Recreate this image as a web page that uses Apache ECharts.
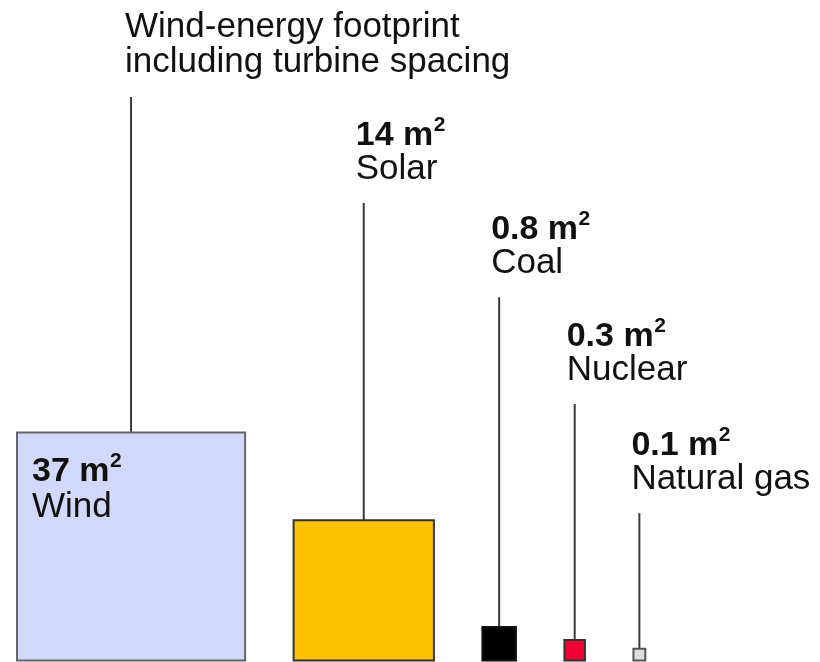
<!DOCTYPE html>
<html>
<head>
<meta charset="utf-8">
<script src="https://cdn.jsdelivr.net/npm/echarts@6/dist/echarts.min.js"></script>
<style>
  html, body { margin: 0; padding: 0; background: #ffffff; }
  #chart { width: 820px; height: 662px; }
</style>
</head>
<body>
<div id="chart"></div>
<script>
// Land footprint per unit of energy, by source (square metres).
// Each square's area is proportional to the footprint.
const categories = ['Wind', 'Solar', 'Coal', 'Nuclear', 'Natural gas'];
const footprint = [37, 14, 0.8, 0.3, 0.1];
const valueText = ['37', '14', '0.8', '0.3', '0.1'];
const windNote = ['Wind-energy footprint', 'including turbine spacing'];

// ---- styling and layout ----
const fills = ['#d3d8fa', '#fcc200', '#000000', '#f00034', '#dedede'];
const strokes = ['#666666', '#333333', '#111111', '#333333', '#555555'];
const leaderTop = [15.03, 12.2, 9.69, 6.84, 3.93]; // y-axis units (metres)
const GAP = 1.293;                                  // metres between squares
const FONT = '"Liberation Sans", Arial, Helvetica, sans-serif';
const NAME_SIZE = 35, VALUE_SIZE = 34, SUP_SIZE = 21;
const TEXT_COLOR = '#111111';
const LINE_COLOR = '#3a3a3a';

// side of each square and its left edge, laid out left to right
const sides = footprint.map(Math.sqrt);
const lefts = [];
let run = 0;
sides.forEach(s => { lefts.push(run); run += s + GAP; });

// text measuring helpers
const mctx = document.createElement('canvas').getContext('2d');
function setFont(size, weight) { mctx.font = weight + ' ' + size + 'px ' + FONT; }
function textWidth(str, size, weight) { setFont(size, weight); return mctx.measureText(str).width; }
function baselineShift(size, weight) {
  setFont(size, weight);
  mctx.textBaseline = 'alphabetic';
  const a = mctx.measureText('H').actualBoundingBoxAscent;
  mctx.textBaseline = 'middle';
  const b = mctx.measureText('H').actualBoundingBoxAscent;
  mctx.textBaseline = 'alphabetic';
  return a - b;
}
function textEl(str, x, baseY, size, weight) {
  return {
    type: 'text', silent: true,
    style: {
      text: str, x: x, y: baseY - baselineShift(size, weight),
      fill: TEXT_COLOR, fontSize: size, fontWeight: weight, fontFamily: FONT,
      align: 'left', verticalAlign: 'middle'
    }
  };
}
// "37 m²" with a real superscript two
function valueEls(str, x, baseY) {
  const main = str + ' m';
  const w = textWidth(main, VALUE_SIZE, 'bold');
  return [
    textEl(main, x, baseY, VALUE_SIZE, 'bold'),
    textEl('2', x + w + 0.5, baseY - 14, SUP_SIZE, 'bold')
  ];
}

function renderItem(params, api) {
  const i = api.value(0);
  const side = sides[i];
  const tl = api.coord([lefts[i], side]);
  const sz = api.size([side, side]);
  const cx = tl[0] + sz[0] / 2;
  const topY = api.coord([0, leaderTop[i]])[1];
  const children = [];

  children.push({
    type: 'line', silent: true,
    shape: { x1: cx, y1: topY, x2: cx, y2: tl[1] },
    style: { stroke: LINE_COLOR, lineWidth: 2 }
  });
  children.push({
    type: 'rect', silent: true,
    shape: { x: tl[0], y: tl[1], width: sz[0], height: sz[1] },
    style: { fill: fills[i], stroke: strokes[i], lineWidth: 2 }
  });

  if (i === 0) {
    // label sits inside the large square, note sits above the leader
    const lx = tl[0] + 15;
    const vb = tl[1] + 49;
    children.push(...valueEls(valueText[i], lx, vb));
    children.push(textEl(categories[i], lx, vb + 36, NAME_SIZE, 'normal'));
    children.push(textEl(windNote[0], cx - 6, topY - 60, NAME_SIZE, 'normal'));
    children.push(textEl(windNote[1], cx - 6, topY - 25, NAME_SIZE, 'normal'));
  } else {
    const lx = cx - 8;
    const nb = topY - 24;
    children.push(...valueEls(valueText[i], lx, nb - 34));
    children.push(textEl(categories[i], lx, nb, NAME_SIZE, 'normal'));
  }
  return { type: 'group', children: children };
}

const chart = echarts.init(document.getElementById('chart'), null, { renderer: 'canvas' });
chart.setOption({
  animation: false,
  backgroundColor: '#ffffff',
  grid: { left: 17, right: 15.5, top: 23, bottom: 1.5 },
  xAxis: { type: 'value', min: 0, max: 21, show: false },
  yAxis: { type: 'value', min: 0, max: 17, show: false },
  series: [{
    type: 'custom',
    clip: false,
    renderItem: renderItem,
    data: categories.map((c, i) => [i]),
    encode: { x: 0, y: 0 }
  }]
});
</script>
</body>
</html>
